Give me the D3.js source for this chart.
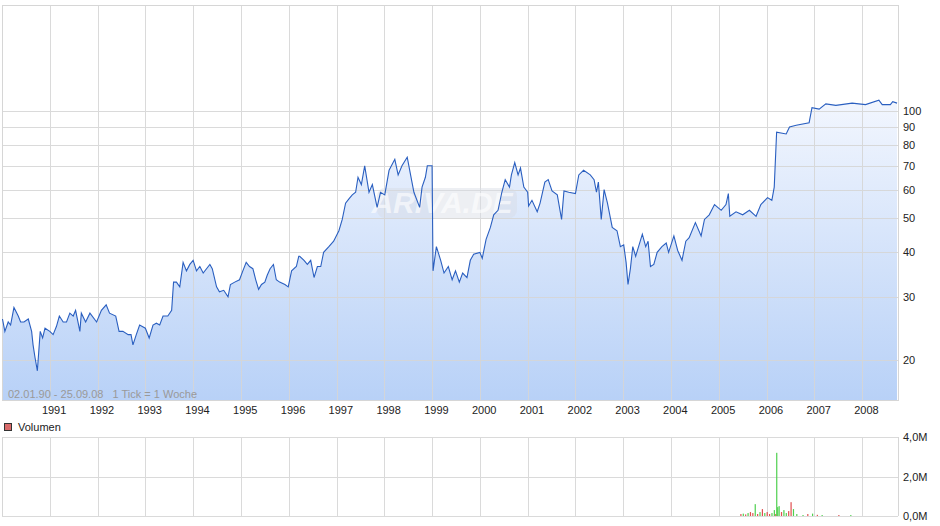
<!DOCTYPE html>
<html><head><meta charset="utf-8">
<script src="https://cdn.jsdelivr.net/npm/d3@7/dist/d3.min.js"></script>
<style>body{margin:0;background:#fff}svg{display:block;font-family:"Liberation Sans",Arial,sans-serif}</style>
</head><body><svg id="c" width="940" height="526"></svg>
<script>
const priceTimes=[1990.01,1990.06,1990.13,1990.18,1990.25,1990.34,1990.39,1990.46,1990.55,1990.62,1990.65,1990.69,1990.74,1990.8,1990.85,1990.9,1991.0,1991.07,1991.14,1991.2,1991.28,1991.35,1991.42,1991.49,1991.54,1991.63,1991.66,1991.75,1991.84,1991.98,1992.08,1992.18,1992.25,1992.38,1992.45,1992.53,1992.64,1992.7,1992.74,1992.81,1992.88,1993.0,1993.08,1993.16,1993.23,1993.3,1993.37,1993.47,1993.55,1993.59,1993.65,1993.72,1993.79,1993.86,1993.93,1994.0,1994.07,1994.14,1994.21,1994.35,1994.4,1994.49,1994.55,1994.64,1994.73,1994.78,1994.87,1994.97,1995.04,1995.11,1995.18,1995.25,1995.31,1995.37,1995.43,1995.5,1995.55,1995.61,1995.68,1995.74,1995.81,1995.92,1995.99,1996.06,1996.16,1996.21,1996.23,1996.32,1996.39,1996.46,1996.53,1996.6,1996.67,1996.73,1996.84,1996.94,1997.05,1997.12,1997.19,1997.26,1997.33,1997.4,1997.45,1997.52,1997.59,1997.68,1997.75,1997.85,1997.92,1998.01,1998.1,1998.22,1998.29,1998.37,1998.48,1998.55,1998.62,1998.74,1998.79,1998.86,1998.9,1999.0,1999.02,1999.09,1999.18,1999.25,1999.34,1999.42,1999.49,1999.57,1999.64,1999.73,1999.8,1999.87,2000.0,2000.05,2000.13,2000.22,2000.29,2000.38,2000.46,2000.53,2000.62,2000.66,2000.73,2000.8,2000.85,2000.92,2001.0,2001.02,2001.09,2001.2,2001.26,2001.36,2001.43,2001.51,2001.62,2001.71,2001.76,2001.86,2002.0,2002.07,2002.17,2002.31,2002.39,2002.44,2002.48,2002.54,2002.6,2002.67,2002.77,2002.87,2002.94,2003.01,2003.06,2003.1,2003.15,2003.2,2003.26,2003.4,2003.47,2003.52,2003.57,2003.64,2003.71,2003.81,2003.9,2003.95,2004.06,2004.14,2004.23,2004.31,2004.38,2004.51,2004.63,2004.7,2004.8,2004.91,2005.05,2005.15,2005.2,2005.23,2005.36,2005.5,2005.64,2005.78,2005.88,2006.02,2006.11,2006.16,2006.21,2006.41,2006.48,2006.62,2006.89,2006.95,2007.1,2007.24,2007.45,2007.79,2008.07,2008.35,2008.42,2008.59,2008.64,2008.73];
const priceValues=[26,24,25.5,25,28,26.5,25.5,25.5,26,24,22,20.3,18.6,24,23,24.5,24,23.5,24.8,26.5,25.5,25.5,27,26.5,27.5,24,27,25.5,27,25.5,27.5,28.5,27,26.5,24,24,23.5,23.5,22,23.5,25,24.5,23,25,25.3,25,26.5,26.5,27.5,33,33,32,37.5,35.5,37,38,35.5,36.5,35,37,36,32,31,31.3,30,32.5,33,33.5,35.5,37.5,36.5,36,33.5,31.5,32.5,33,34.5,36,37,33.5,33,32.5,32,35.5,36.5,39,39,38,37,38,34,36.5,36.5,40,41.5,43,46,49.5,55,56.5,58,59,65,62,70,59,62,53.5,59,58,68,73,66,70,74,66,59,53.5,61,65,70,70,35.5,41.5,38,35,36.5,33.5,35.5,33,35,34,38,39.5,40,38.5,43.5,47,51,52.5,59,64,61,66,71.5,66,69,61,59,54,56,52,55,63,64,59.5,58,49.5,59.5,59,58.5,66,68,66,64,59,63,49.5,60,55,47,46,41.5,42,37.5,32.5,36,41.5,39,45,41.5,43,36.5,37,40,41.5,42.5,40,44.5,40.5,38,43,44,48.5,44.5,49.5,51,54.5,52.5,54.5,58.5,50.5,52,51,52.5,50.5,54.5,57,56,61,87,86,90,91,92.5,102,101,104.5,103.5,105,104,107,104,104,106,105];
const volTimes=[2005.45,2005.5,2005.55,2005.6,2005.65,2005.7,2005.75,2005.8,2005.85,2005.9,2005.95,2006.0,2006.05,2006.1,2006.15,2006.18,2006.2,2006.22,2006.25,2006.3,2006.35,2006.4,2006.45,2006.5,2006.55,2006.62,2006.75,2006.85,2006.95,2007.05,2007.15,2007.5,2007.75];
const volValues=[0.1,0.12,0.08,0.15,0.2,0.15,0.6,0.1,0.2,0.35,0.15,0.2,0.1,0.15,0.3,0.1,3.2,0.45,0.5,0.2,0.3,0.15,0.25,0.7,0.35,0.1,0.05,0.1,0.12,0.06,0.05,0.05,0.05];
const volUp=[0,1,0,1,0,0,1,0,1,0,1,0,0,1,1,0,1,1,1,0,1,1,0,0,1,1,1,0,1,0,1,0,1];
const priceTicks=[20,30,40,50,60,70,80,90,100];
const years=d3.range(1991,2009);
const volTicks=[0,2,4];

const svg=d3.select("#c");
const L=2,R=898,T=5,B=400,VT=437,VB=516;
const x=d3.scaleLinear().domain([1990.0,2008.75]).range([L,R]);
const y=d3.scaleLog().domain([15.4,198]).range([B,T]);
const yv=d3.scaleLinear().domain([0,4]).range([VB,VT]);

const defs=svg.append("defs");
const g=defs.append("linearGradient").attr("id","gr").attr("x1",0).attr("y1",0).attr("x2",0).attr("y2",1);
g.append("stop").attr("offset","0").attr("stop-color","#f2f6fe");
g.append("stop").attr("offset","1").attr("stop-color","#b8d1f7");
const pts=priceTimes.map((t,i)=>[t,priceValues[i]]);
svg.append("path").datum(pts).attr("fill","url(#gr)")
 .attr("d",d3.area().x(d=>x(d[0])).y0(B).y1(d=>y(d[1])));
const grid=svg.append("g").attr("stroke","#d6d6d6").attr("stroke-width",1).attr("opacity",0.9);
priceTicks.forEach(v=>grid.append("line").attr("x1",L).attr("x2",R).attr("y1",Math.round(y(v))+0.5).attr("y2",Math.round(y(v))+0.5));
years.forEach(yr=>{const xx=Math.round(x(yr))+0.5;
 grid.append("line").attr("x1",xx).attr("x2",xx).attr("y1",T).attr("y2",B);
 grid.append("line").attr("x1",xx).attr("x2",xx).attr("y1",VT).attr("y2",VB);});
volTicks.forEach(v=>grid.append("line").attr("x1",L).attr("x2",R).attr("y1",Math.round(yv(v))+0.5).attr("y2",Math.round(yv(v))+0.5));
const fr=svg.append("g").attr("stroke","#d6d6d6").attr("fill","none");
fr.append("rect").attr("x",L+0.5).attr("y",T+0.5).attr("width",R-L).attr("height",B-T);
fr.append("line").attr("x1",L+0.5).attr("x2",L+0.5).attr("y1",VT).attr("y2",VB);
fr.append("line").attr("x1",R+0.5).attr("x2",R+0.5).attr("y1",VT).attr("y2",VB);
// watermark
svg.append("rect").attr("x",377).attr("y",188).attr("width",140).attr("height",30).attr("rx",8).attr("fill","#d8dce4").attr("opacity",0.45);
svg.append("text").attr("x",442).attr("y",213).attr("text-anchor","middle").attr("font-size",30).attr("font-style","italic").attr("font-weight","bold").attr("fill","#ffffff").attr("opacity",0.6).text("ARIVA.DE");
svg.append("path").datum(pts).attr("fill","none").attr("stroke","#2a5fc0").attr("stroke-width",1.1)
 .attr("d",d3.line().x(d=>x(d[0])).y(d=>y(d[1])));
const ay=d3.axisRight(y).tickValues(priceTicks).tickFormat(d3.format("d")).tickSize(0).tickPadding(5);
svg.append("g").attr("transform",`translate(${R},0)`).call(ay).call(s=>s.select(".domain").remove())
 .selectAll("text").attr("font-size",11).attr("fill","#222").attr("font-family","Liberation Sans, Arial");
const ax=d3.axisBottom(x).tickValues(years.map(v=>v+0.08)).tickFormat(d=>Math.round(d)).tickSize(0).tickPadding(6);
svg.append("g").attr("transform",`translate(0,${B})`).call(ax).call(s=>s.select(".domain").remove())
 .selectAll("text").attr("font-size",11).attr("fill","#222").attr("font-family","Liberation Sans, Arial");
const av=d3.axisRight(yv).tickValues(volTicks).tickFormat(d=>d.toFixed(1).replace(".",",")+"M").tickSize(0).tickPadding(5);
svg.append("g").attr("transform",`translate(${R},0)`).call(av).call(s=>s.select(".domain").remove())
 .selectAll("text").attr("font-size",11).attr("fill","#222").attr("font-family","Liberation Sans, Arial");
svg.append("text").attr("x",8).attr("y",398).attr("font-size",11).attr("fill","#999").attr("xml:space","preserve").text("02.01.90 - 25.09.08   1 Tick = 1 Woche");
svg.append("rect").attr("x",4.5).attr("y",423.5).attr("width",7).attr("height",7).attr("fill","#d96a6a").attr("stroke","#333");
svg.append("text").attr("x",18).attr("y",431).attr("font-size",11).attr("fill","#222").text("Volumen");
svg.append("g").selectAll("rect").data(volTimes).join("rect")
 .attr("x",d=>x(d)).attr("width",1.2)
 .attr("y",(d,i)=>yv(volValues[i])).attr("height",(d,i)=>VB-yv(volValues[i]))
 .attr("fill",(d,i)=>volUp[i]?"#4fd04f":"#e05050");
</script></body></html>
